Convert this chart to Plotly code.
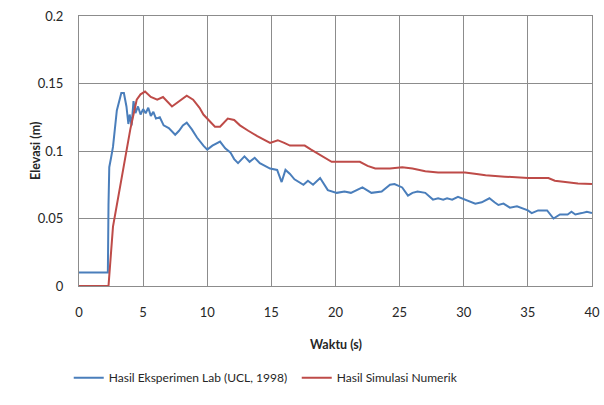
import plotly.graph_objects as go

# Experimental (blue)
exp_t = [0, 2.25, 2.3, 2.36, 2.5, 2.65, 2.95, 3.3, 3.5, 3.7, 3.85, 3.95, 4.1, 4.25, 4.4, 4.6, 4.8, 5.0, 5.2, 5.4,
         5.6, 5.8, 6.0, 6.3, 6.6, 7.0, 7.5, 7.8, 8.1, 8.4, 8.8, 9.2, 9.7, 10.0, 10.4, 10.75, 11.0, 11.4, 11.8,
         12.1, 12.4, 12.9, 13.3, 13.7, 14.1, 14.5, 14.9, 15.45, 15.8, 16.1, 16.45, 16.8, 17.2, 17.5, 17.85,
         18.25, 18.8, 19.1, 19.4, 20.1, 20.7, 21.2, 21.6, 22.1, 22.8, 23.6, 24.25, 24.6, 25.2, 25.65, 26.0,
         26.4, 27.0, 27.6, 28.0, 28.4, 28.7, 29.1, 29.55, 30.1, 30.5, 30.9, 31.4, 32.0, 32.4, 32.7, 33.1,
         33.6, 34.15, 34.5, 35.0, 35.3, 35.8, 36.5, 37.0, 37.5, 38.1, 38.4, 38.7, 39.2, 39.6, 40]
exp_v = [0.01, 0.01, 0.06, 0.088, 0.095, 0.103, 0.13, 0.143, 0.143, 0.133, 0.12, 0.127, 0.119, 0.137, 0.128,
         0.133, 0.127, 0.131, 0.128, 0.132, 0.126, 0.129, 0.124, 0.125, 0.119, 0.117, 0.112, 0.115, 0.119,
         0.121, 0.116, 0.110, 0.104, 0.101, 0.104, 0.106, 0.107, 0.102, 0.099, 0.094, 0.091, 0.096, 0.092,
         0.095, 0.091, 0.089, 0.087, 0.086, 0.077, 0.086, 0.083, 0.079, 0.077, 0.075, 0.078, 0.075, 0.080,
         0.075, 0.071, 0.069, 0.070, 0.069, 0.071, 0.073, 0.069, 0.070, 0.075, 0.0755, 0.073, 0.067, 0.069,
         0.070, 0.069, 0.064, 0.065, 0.064, 0.065, 0.064, 0.066, 0.064, 0.062, 0.061, 0.062, 0.065, 0.062,
         0.060, 0.061, 0.058, 0.059, 0.058, 0.056, 0.054, 0.056, 0.056, 0.050, 0.053, 0.053, 0.055, 0.053,
         0.054, 0.055, 0.054]

# Numerical simulation (red)
sim_t = [0, 2.3, 2.65, 3.0, 3.4, 4.0, 4.5, 4.8, 5.15, 5.6, 6.1, 6.55, 7.25, 7.8, 8.4, 8.9, 9.4, 9.7, 10.2,
         10.6, 11.0, 11.6, 12.1, 12.55, 13.2, 13.9, 14.9, 15.5, 16.0, 16.45, 16.8, 17.6, 18.1, 18.6, 19.2,
         19.7, 20.7, 21.9, 22.5, 23.1, 24.25, 25.2, 26.0, 27.0, 28.0, 30.1, 31.0, 31.7, 33.2, 35.0, 36.6,
         37.1, 38.9, 40]
sim_v = [0, 0, 0.044, 0.062, 0.085, 0.116, 0.138, 0.142, 0.144, 0.140, 0.138, 0.140, 0.133, 0.137, 0.141,
         0.138, 0.132, 0.127, 0.122, 0.118, 0.118, 0.124, 0.123, 0.119, 0.115, 0.111, 0.106, 0.108, 0.106,
         0.104, 0.104, 0.104, 0.101, 0.098, 0.095, 0.092, 0.092, 0.092, 0.089, 0.087, 0.087, 0.088, 0.087,
         0.085, 0.084, 0.084, 0.083, 0.082, 0.081, 0.080, 0.080, 0.078, 0.076, 0.0755]

x_ticks = [0, 5, 10, 15, 20, 25, 30, 35, 40]
y_ticks = [0, 0.05, 0.1, 0.15, 0.2]

FONT = "Lato"
grid = "#8c8c8c"
txt = "#262626"

fig = go.Figure()
fig.add_trace(go.Scatter(x=exp_t, y=exp_v, mode="lines", name="Hasil Eksperimen Lab (UCL, 1998)",
                         line=dict(color="#4a7ebb", width=2)))
fig.add_trace(go.Scatter(x=sim_t, y=sim_v, mode="lines", name="Hasil Simulasi Numerik",
                         line=dict(color="#be4b48", width=2)))

fig.update_layout(
    width=604, height=405,
    margin=dict(l=79, r=12, t=16, b=119, autoexpand=False),
    paper_bgcolor="white", plot_bgcolor="white",
    font=dict(family=FONT, size=12, color=txt),
    showlegend=True,
    legend=dict(orientation="h", x=-0.02, xanchor="left", y=-0.34, yanchor="middle",
                font=dict(size=12, color=txt), itemwidth=30, entrywidth=183,
                traceorder="normal"),
    xaxis=dict(range=[0, 40], tickvals=x_ticks, showgrid=True, gridcolor=grid, gridwidth=1,
               zeroline=False, showline=True, linecolor=grid, linewidth=1, mirror=True,
               ticklabelstandoff=14, tickfont=dict(size=13, color=txt)),
    yaxis=dict(range=[0, 0.2], tickvals=y_ticks, showgrid=True, gridcolor=grid, gridwidth=1,
               zeroline=False, showline=True, linecolor=grid, linewidth=1, mirror=True,
               ticklabelstandoff=12, tickfont=dict(size=13, color=txt)),
    annotations=[
        dict(text="<b>Waktu (s)</b>", x=0.5, y=-0.2185, xref="paper", yref="paper",
             showarrow=False, xanchor="center", yanchor="middle", font=dict(size=12.5, color=txt)),
        dict(text="<b>Elevasi (m)</b>", x=-0.0858, y=0.5, xref="paper", yref="paper",
             showarrow=False, xanchor="center", yanchor="middle", textangle=-90,
             font=dict(size=12.5, color=txt)),
    ],
)

fig.write_html("out.html", config={"displayModeBar": False},
               post_script="document.body.style.margin='0';document.body.style.overflow='hidden';")
